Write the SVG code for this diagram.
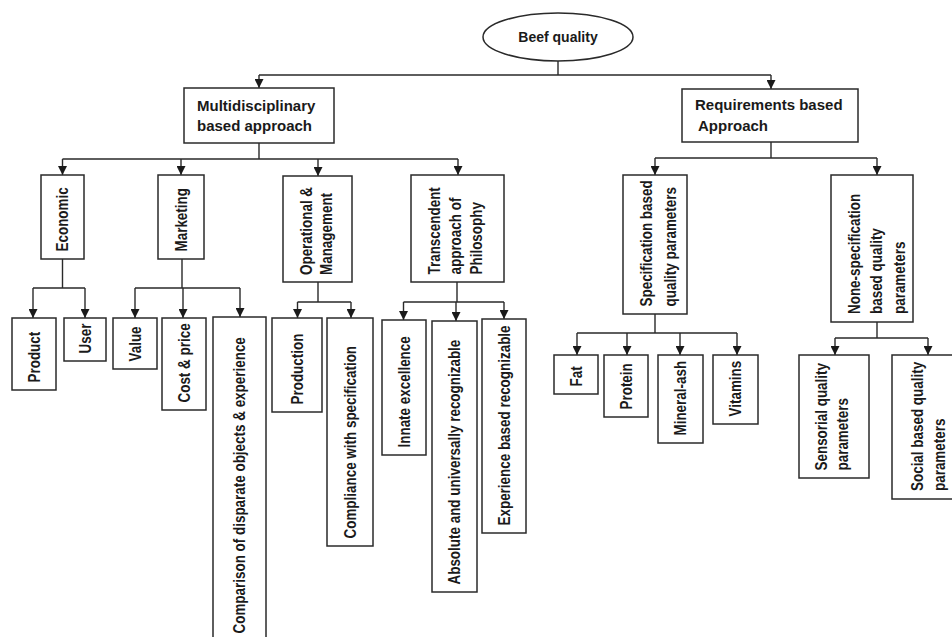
<svg xmlns="http://www.w3.org/2000/svg" width="952" height="637" viewBox="0 0 952 637">
  <style>
    .box { fill: #ffffff; stroke: #2a2a2a; stroke-width: 1.5; }
    .wire { fill: none; stroke: #2a2a2a; stroke-width: 1.4; }
    .h { font-family: "Liberation Sans", Arial, sans-serif; font-weight: bold; font-size: 15px; fill: #1a1a1a; }
    .t { font-family: "Liberation Sans", Arial, sans-serif; font-weight: bold; font-size: 14px; fill: #1a1a1a; }
    .v { font-family: "Liberation Sans", Arial, sans-serif; font-weight: bold; font-size: 16px; fill: #1a1a1a; }
  </style>
  <defs>
    <marker id="arrow" viewBox="0 0 10 10" refX="10" refY="5" markerUnits="userSpaceOnUse" markerWidth="9" markerHeight="9" orient="auto">
      <path d="M0,0 L10,5 L0,10 z" fill="#1a1a1a"/>
    </marker>
  </defs>
  <rect width="952" height="637" fill="#ffffff"/>

  <!-- connectors -->
  <g id="connectors" class="wire">
    <path d="M558,61 V75 M259,75 H771"/>
    <path d="M259,75 V88" marker-end="url(#arrow)"/>
    <path d="M771,75 V89" marker-end="url(#arrow)"/>

    <path d="M259,143 V159 M62.5,159 H458"/>
    <path d="M62.5,159 V175" marker-end="url(#arrow)"/>
    <path d="M181,159 V175" marker-end="url(#arrow)"/>
    <path d="M318,159 V176" marker-end="url(#arrow)"/>
    <path d="M458,159 V175" marker-end="url(#arrow)"/>

    <path d="M771,142 V158 M655,158 H877"/>
    <path d="M655,158 V175" marker-end="url(#arrow)"/>
    <path d="M877,158 V175" marker-end="url(#arrow)"/>

    <path d="M62.5,259 V288 M33,288 H85"/>
    <path d="M33,288 V318" marker-end="url(#arrow)"/>
    <path d="M85,288 V318" marker-end="url(#arrow)"/>

    <path d="M182,259 V288 M135,288 H240"/>
    <path d="M135,288 V318" marker-end="url(#arrow)"/>
    <path d="M183,288 V318" marker-end="url(#arrow)"/>
    <path d="M240,288 V317" marker-end="url(#arrow)"/>

    <path d="M318,282 V302 M297.5,302 H351"/>
    <path d="M297.5,302 V318" marker-end="url(#arrow)"/>
    <path d="M351,302 V318" marker-end="url(#arrow)"/>

    <path d="M457,282 V302 M403.5,302 H504"/>
    <path d="M403.5,302 V320" marker-end="url(#arrow)"/>
    <path d="M456,302 V321" marker-end="url(#arrow)"/>
    <path d="M504,302 V319" marker-end="url(#arrow)"/>

    <path d="M655,314 V333 M577,333 H737"/>
    <path d="M577,333 V355" marker-end="url(#arrow)"/>
    <path d="M627,333 V355" marker-end="url(#arrow)"/>
    <path d="M680,333 V355" marker-end="url(#arrow)"/>
    <path d="M737,333 V355" marker-end="url(#arrow)"/>

    <path d="M877,322 V338 M835,338 H928"/>
    <path d="M835,338 V355" marker-end="url(#arrow)"/>
    <path d="M928,338 V355" marker-end="url(#arrow)"/>
  </g>

  <!-- root -->
  <g id="beef-quality">
    <ellipse class="box" cx="558" cy="37" rx="75" ry="24"/>
    <text class="t" x="558" y="42" text-anchor="middle">Beef quality</text>
  </g>

  <!-- second level -->
  <g id="multidisciplinary">
    <rect class="box" x="184" y="88" width="150" height="55"/>
    <text class="h" x="197" y="110.5">Multidisciplinary</text>
    <text class="h" x="197" y="131">based approach</text>
  </g>
  <g id="requirements">
    <rect class="box" x="682" y="89" width="176" height="53"/>
    <text class="h" x="695" y="110">Requirements based</text>
    <text class="h" x="698" y="131">Approach</text>
  </g>

  <!-- third level -->
  <g id="economic">
    <rect class="box" x="41" y="175" width="43" height="84"/>
    <text class="v" transform="translate(68,251.5) rotate(-90) scale(0.84,1)">Economic</text>
  </g>
  <g id="marketing">
    <rect class="box" x="158" y="175" width="46" height="84"/>
    <text class="v" transform="translate(186.5,251.5) rotate(-90) scale(0.84,1)">Marketing</text>
  </g>
  <g id="operational">
    <rect class="box" x="283" y="176" width="69" height="106"/>
    <text class="v" transform="translate(312,275) rotate(-90) scale(0.84,1)">Operational  &amp;</text>
    <text class="v" transform="translate(332,275) rotate(-90) scale(0.84,1)">Management</text>
  </g>
  <g id="transcendent">
    <rect class="box" x="411" y="175" width="93" height="107"/>
    <text class="v" transform="translate(440,274.5) rotate(-90) scale(0.84,1)">Transcendent</text>
    <text class="v" transform="translate(461,274.5) rotate(-90) scale(0.84,1)">approach of</text>
    <text class="v" transform="translate(482,274.5) rotate(-90) scale(0.84,1)">Philosophy</text>
  </g>
  <g id="specification">
    <rect class="box" x="623" y="175" width="64" height="139"/>
    <text class="v" transform="translate(651.5,306.5) rotate(-90) scale(0.84,1)">Specification based</text>
    <text class="v" transform="translate(676,306.5) rotate(-90) scale(0.84,1)">quality parameters</text>
  </g>
  <g id="none-specification">
    <rect class="box" x="831" y="175" width="82" height="147"/>
    <text class="v" transform="translate(859.5,314) rotate(-90) scale(0.84,1)">None-specification</text>
    <text class="v" transform="translate(882,314) rotate(-90) scale(0.84,1)">based quality</text>
    <text class="v" transform="translate(904.5,314) rotate(-90) scale(0.84,1)">parameters</text>
  </g>

  <!-- leaves -->
  <g id="product">
    <rect class="box" x="12" y="318" width="44" height="72"/>
    <text class="v" transform="translate(39.5,382.5) rotate(-90) scale(0.84,1)">Product</text>
  </g>
  <g id="user">
    <rect class="box" x="64" y="318" width="42" height="43"/>
    <text class="v" transform="translate(90.5,353.5) rotate(-90) scale(0.84,1)">User</text>
  </g>
  <g id="value">
    <rect class="box" x="113" y="318" width="44" height="51"/>
    <text class="v" transform="translate(140.5,361.5) rotate(-90) scale(0.84,1)">Value</text>
  </g>
  <g id="cost-price">
    <rect class="box" x="162" y="318" width="44" height="92"/>
    <text class="v" transform="translate(189.5,402.5) rotate(-90) scale(0.84,1)">Cost &amp; price</text>
  </g>
  <g id="comparison">
    <rect class="box" x="213" y="317" width="53" height="324"/>
    <text class="v" transform="translate(245,633.5) rotate(-90) scale(0.84,1)">Comparison of disparate  objects  &amp;  experience</text>
  </g>
  <g id="production">
    <rect class="box" x="272" y="318" width="50" height="94"/>
    <text class="v" transform="translate(302.5,404.5) rotate(-90) scale(0.84,1)">Production</text>
  </g>
  <g id="compliance">
    <rect class="box" x="327" y="318" width="46" height="228"/>
    <text class="v" transform="translate(355.5,538.5) rotate(-90) scale(0.84,1)">Compliance with specification</text>
  </g>
  <g id="innate">
    <rect class="box" x="382" y="320" width="44" height="135"/>
    <text class="v" transform="translate(409.5,447.5) rotate(-90) scale(0.84,1)">Innate excellence</text>
  </g>
  <g id="absolute">
    <rect class="box" x="432" y="321" width="45" height="271"/>
    <text class="v" transform="translate(460,584.5) rotate(-90) scale(0.84,1)">Absolute and universally recognizable</text>
  </g>
  <g id="experience">
    <rect class="box" x="482" y="319" width="44" height="214"/>
    <text class="v" transform="translate(509.5,525.5) rotate(-90) scale(0.84,1)">Experience based recognizable</text>
  </g>
  <g id="fat">
    <rect class="box" x="554" y="355" width="44" height="39"/>
    <text class="v" transform="translate(581.5,386.5) rotate(-90) scale(0.84,1)">Fat</text>
  </g>
  <g id="protein">
    <rect class="box" x="604" y="355" width="44" height="62"/>
    <text class="v" transform="translate(631.5,409.5) rotate(-90) scale(0.84,1)">Protein</text>
  </g>
  <g id="mineral-ash">
    <rect class="box" x="658" y="355" width="45" height="88"/>
    <text class="v" transform="translate(686,435.5) rotate(-90) scale(0.84,1)">Mineral-ash</text>
  </g>
  <g id="vitamins">
    <rect class="box" x="713" y="355" width="45" height="69"/>
    <text class="v" transform="translate(741,416.5) rotate(-90) scale(0.84,1)">Vitamins</text>
  </g>
  <g id="sensorial">
    <rect class="box" x="799" y="355" width="70" height="123"/>
    <text class="v" transform="translate(827,470.5) rotate(-90) scale(0.84,1)">Sensorial quality</text>
    <text class="v" transform="translate(848,470.5) rotate(-90) scale(0.84,1)">parameters</text>
  </g>
  <g id="social">
    <rect class="box" x="892" y="355" width="62" height="144"/>
    <text class="v" transform="translate(923,491) rotate(-90) scale(0.84,1)">Social based quality</text>
    <text class="v" transform="translate(944.5,491) rotate(-90) scale(0.84,1)">parameters</text>
  </g>
</svg>
